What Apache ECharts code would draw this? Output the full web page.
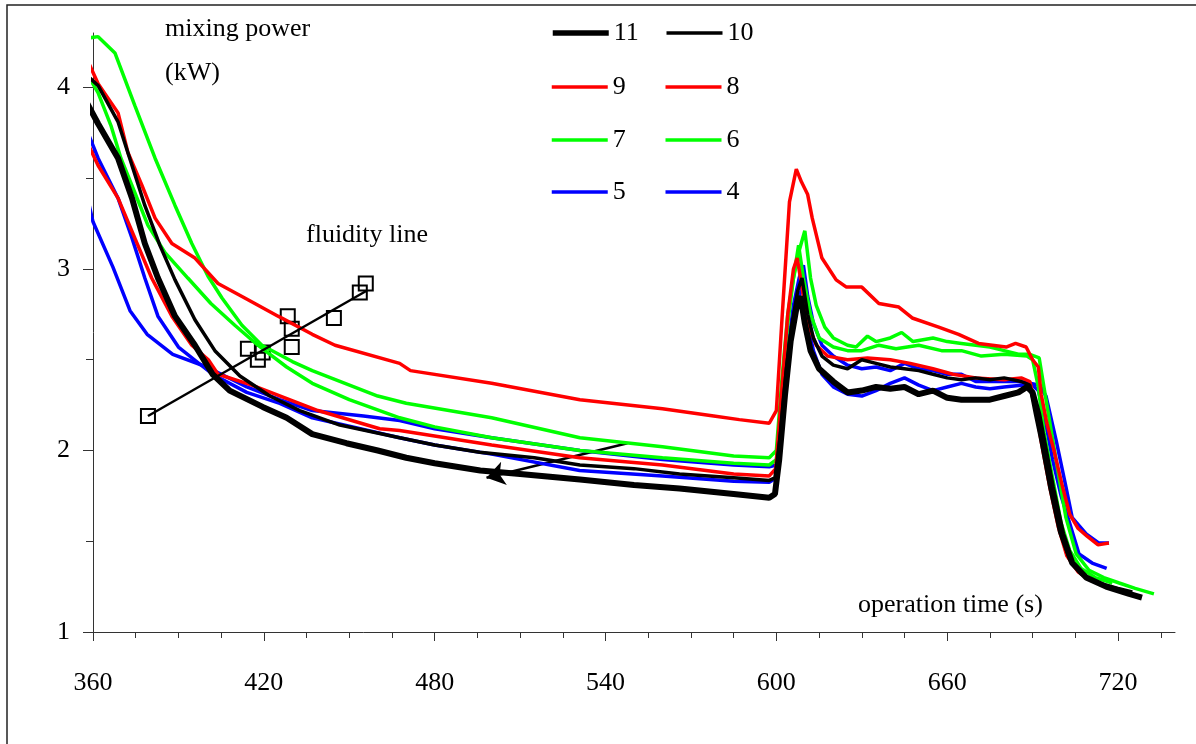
<!DOCTYPE html>
<html>
<head>
<meta charset="utf-8">
<script src="https://cdn.jsdelivr.net/npm/echarts@6.0.0/dist/echarts.min.js"></script>
<style>
  html, body { margin: 0; padding: 0; background: #fff; }
  #chart { width: 1196px; height: 744px; }
</style>
</head>
<body>
<div id="chart"></div>
<script>
// tick values
var xLabelTicks = [360, 420, 480, 540, 600, 660, 720];
var xMinorTicks = [375, 390, 405, 435, 450, 465, 495, 510, 525, 555, 570, 585, 615, 630, 645, 675, 690, 705, 735];
var yLabelTicks = [1, 2, 3, 4];
var yMinorTicks = [1.5, 2.5, 3.5];

// legend order (two per row)
var legendRows = [['11', '10'], ['9', '8'], ['7', '6'], ['5', '4']];

// mixing power (kW) vs operation time (s)
var run11 = [[357,3.94],[361.8,3.80],[368.8,3.61],[373.7,3.39],[378.2,3.14],[382.8,2.95],[388.8,2.74],[395.8,2.58],[402,2.42],[408,2.33],[419.6,2.24],[428,2.18],[437,2.09],[449,2.04],[460,2.00],[470,1.96],[480,1.93],[496,1.89],[510,1.87],[531,1.84],[550,1.81],[566,1.79],[585,1.76],[597.5,1.74],[599.5,1.76],[601,1.95],[603,2.3],[605,2.6],[607,2.78],[608.5,2.85],[610,2.7],[612,2.55],[615,2.45],[620,2.38],[625,2.32],[630,2.33],[635,2.35],[640,2.34],[645,2.35],[650,2.31],[655,2.33],[660,2.29],[665,2.28],[670,2.28],[675,2.28],[680,2.30],[685,2.32],[688,2.35],[690,2.32],[692,2.2],[693.3,2.09],[696.8,1.80],[700.4,1.54],[703.9,1.38],[708.8,1.30],[715.8,1.25],[723.9,1.21],[728.4,1.19]];
var run10 = [[357,4.08],[361.8,4.01],[368.8,3.81],[373.7,3.57],[378.2,3.35],[383.5,3.13],[388.8,2.94],[395.8,2.72],[402.8,2.55],[411.6,2.41],[422.1,2.30],[432.6,2.22],[446.7,2.14],[467.7,2.07],[480,2.03],[495.8,1.99],[515,1.96],[531,1.92],[550,1.90],[566,1.87],[585,1.85],[597.5,1.835],[599.5,1.85],[601.5,2.1],[603.5,2.45],[605.5,2.7],[607.5,2.88],[609,2.95],[611,2.75],[613,2.62],[616,2.52],[620,2.47],[625,2.45],[630,2.50],[635,2.48],[640,2.46],[645,2.45],[650,2.44],[655,2.42],[660,2.40],[665,2.39],[670,2.40],[675,2.39],[680,2.40],[686,2.38],[689,2.36],[691,2.2],[693,2.05],[696,1.8],[699.5,1.55],[703,1.40],[707,1.32],[713,1.27],[720,1.24],[725,1.22]];
var run9 = [[357.2,4.18],[361.8,4.02],[368.8,3.86],[372.3,3.64],[377.2,3.46],[381.8,3.28],[387.7,3.14],[395.8,3.06],[403.9,2.92],[413.3,2.84],[425,2.74],[437,2.64],[445,2.58],[467.7,2.48],[471.5,2.44],[500,2.37],[531,2.28],[560,2.23],[578,2.19],[587,2.17],[597.5,2.15],[600,2.22],[602,2.73],[604.6,3.37],[607,3.55],[608.8,3.48],[611,3.41],[612.6,3.28],[616,3.06],[621,2.94],[624.6,2.90],[630,2.90],[636,2.81],[643,2.79],[647.7,2.73],[657,2.68],[664,2.64],[671,2.59],[680.7,2.57],[684,2.59],[687.7,2.57],[690,2.50],[692,2.46],[693,2.31],[695,2.15],[697.5,2.0],[700.5,1.80],[703,1.65],[706,1.57],[709,1.53],[713,1.48],[716.8,1.49]];
var run8 = [[357,3.73],[361.8,3.57],[368.8,3.39],[374.7,3.17],[380.6,2.95],[387.7,2.74],[394.7,2.58],[400.5,2.50],[403.9,2.42],[415.8,2.36],[427.4,2.29],[439,2.22],[460.7,2.12],[467.7,2.11],[500,2.03],[530.9,1.96],[560,1.92],[585,1.87],[597.5,1.86],[599.8,1.9],[602,2.35],[604,2.75],[606,3.0],[607.3,3.06],[609,2.9],[611,2.7],[614,2.58],[618,2.52],[625,2.50],[632,2.51],[640,2.50],[647,2.48],[655,2.45],[662,2.42],[670,2.40],[680,2.39],[686,2.40],[689,2.38],[691,2.25],[693,2.05],[696,1.80],[699,1.58],[702,1.42],[706,1.33],[711,1.28]];
var run7 = [[357.2,4.27],[361.8,4.28],[367.7,4.19],[374.7,3.90],[381.8,3.61],[388.8,3.35],[394.7,3.14],[400.4,2.96],[405.3,2.84],[412.3,2.69],[419.3,2.58],[430,2.49],[437,2.44],[460,2.30],[470,2.26],[500,2.18],[531,2.07],[560,2.02],[585,1.97],[597.5,1.96],[600,2.0],[602,2.4],[604,2.75],[606,2.95],[608,3.1],[610,3.21],[612,2.95],[614,2.8],[617,2.68],[620,2.62],[625,2.58],[628,2.57],[632,2.63],[635,2.60],[640,2.62],[644,2.65],[648,2.60],[655,2.62],[660,2.60],[665,2.59],[670,2.58],[675,2.57],[680,2.55],[685,2.53],[689,2.53],[692.3,2.51],[694.7,2.28],[698.2,1.95],[701.7,1.63],[705.3,1.43],[709.8,1.34],[715,1.30],[720.4,1.27],[726,1.24],[732.6,1.21]];
var run6 = [[357,4.10],[361.8,3.97],[366.3,3.79],[369.8,3.61],[374.7,3.42],[379.3,3.24],[385.3,3.09],[393.3,2.95],[401.4,2.81],[409.8,2.69],[417.9,2.58],[428,2.46],[437,2.37],[450,2.28],[467.7,2.18],[480,2.13],[500,2.07],[531,2.00],[560,1.96],[585,1.93],[597.5,1.92],[600,1.95],[602,2.35],[604,2.7],[606,2.95],[607.8,3.13],[609.5,2.95],[612,2.75],[615,2.62],[620,2.57],[625,2.55],[630,2.55],[636,2.58],[642,2.56],[650,2.58],[658,2.55],[665,2.55],[672,2.52],[680,2.53],[688,2.52],[690,2.50],[692,2.35],[694,2.10],[697,1.85],[700,1.60],[703,1.45],[707,1.35],[712,1.30],[718,1.27]];
var run5 = [[357.2,3.45],[360,3.26],[367,3.01],[373,2.77],[379,2.64],[388,2.53],[400,2.46],[414,2.35],[425.6,2.28],[437,2.22],[455,2.19],[467.7,2.165],[480,2.12],[500,2.07],[531,2.00],[560,1.95],[585,1.92],[597.5,1.91],[600,1.92],[602,2.2],[604,2.55],[606,2.8],[608,2.95],[609.5,3.02],[611,2.85],[613,2.7],[616,2.58],[620,2.52],[625,2.47],[630,2.45],[635,2.46],[640,2.44],[645,2.48],[650,2.45],[655,2.44],[660,2.42],[665,2.42],[670,2.38],[675,2.38],[680,2.38],[685,2.38],[689,2.37],[692.5,2.36],[694.7,2.30],[698.2,2.06],[701.7,1.80],[703.9,1.63],[708.8,1.54],[713.3,1.49],[716.8,1.49]];
var run4 = [[357.2,3.79],[361.8,3.61],[368.8,3.39],[373.7,3.17],[378.2,2.95],[382.8,2.74],[390,2.57],[402,2.42],[414,2.32],[425.6,2.26],[437,2.18],[467.7,2.07],[480,2.03],[500,1.98],[530.9,1.89],[560,1.86],[585,1.83],[597.5,1.825],[600,1.85],[602,2.15],[604,2.5],[606,2.72],[608,2.85],[609.5,2.92],[611,2.7],[613,2.55],[616,2.42],[620,2.35],[625,2.31],[630,2.30],[635,2.33],[640,2.37],[645,2.40],[650,2.36],[655,2.33],[660,2.35],[665,2.37],[670,2.35],[675,2.34],[680,2.35],[686,2.36],[690,2.36],[692,2.33],[694,2.20],[697,1.95],[700,1.75],[702.8,1.61],[706.3,1.43],[710.9,1.38],[716,1.35]];

// fluidity points and fitted line
var fluidityPoints = [[379.3,2.19],[414.4,2.56],[417.9,2.50],[419.6,2.54],[428.4,2.74],[429.8,2.67],[429.8,2.57],[444.6,2.73],[453.7,2.87],[455.8,2.92]];
var fluidityLine = [[379.3,2.19],[456.1,2.88]];
var arrowLine = [[547.7,2.04],[498.2,1.85]];

var serif = 'Liberation Serif';

var runs = [
    { name: '4', data: run4, color: '#0000ff', width: 3.5 },
    { name: '5', data: run5, color: '#0000ff', width: 3.5 },
    { name: '6', data: run6, color: '#00ff00', width: 3.5 },
    { name: '7', data: run7, color: '#00ff00', width: 3.5 },
    { name: '8', data: run8, color: '#ff0000', width: 3.5 },
    { name: '9', data: run9, color: '#ff0000', width: 3.5 },
    { name: '10', data: run10, color: '#000000', width: 3.5 },
    { name: '11', data: run11, color: '#000000', width: 6 }
];

// legend swatch widths
var legendWidths = { '11': 5.5, '10': 3.5, '9': 3.5, '8': 3.5, '7': 3.5, '6': 3.5, '5': 3.5, '4': 3.5 };

var series = runs.map(function(r) {
    return {
        name: r.name,
        type: 'line',
        data: r.data,
        showSymbol: false,
        symbol: 'none',
        clip: false,
        lineStyle: { color: r.color, width: r.width },
        itemStyle: { color: r.color },
        silent: true
    };
});

series.push({
    name: 'fluidity line',
    type: 'line',
    data: fluidityLine,
    symbol: 'none',
    lineStyle: { color: '#000', width: 2.5 },
    silent: true
});
series.push({
    name: 'fluidity points',
    type: 'scatter',
    data: fluidityPoints,
    symbol: 'rect',
    symbolSize: 14,
    itemStyle: { color: 'rgba(0,0,0,0)', borderColor: '#000', borderWidth: 2, opacity: 1 },
    silent: true
});
series.push({
    name: 'arrow',
    type: 'lines',
    coordinateSystem: 'cartesian2d',
    data: [{ coords: arrowLine }],
    symbol: ['none', 'arrow'],
    symbolSize: 18,
    lineStyle: { color: '#000', width: 2.5, opacity: 1 },
    silent: true
});

var legendTops = [20, 74, 127, 179];
var legends = legendRows.map(function(row, i) {
    return {
        data: row.map(function(n) {
            return { name: n, lineStyle: { width: legendWidths[n] } };
        }),
        left: 550,
        top: legendTops[i],
        padding: 0,
        itemWidth: 56,
        itemHeight: 14,
        itemGap: 7,
        selectedMode: false,
        itemStyle: { opacity: 0 },
        textStyle: { fontFamily: serif, fontSize: 26, color: '#000', width: 44, lineHeight: 26 }
    };
});

var axisColor = '#333';

var options = {
    animation: false,
    backgroundColor: '#fff',
    legend: legends,
    grid: { left: 93, right: 21, top: 33, bottom: 112 },
    xAxis: [
        {
            type: 'value', min: 360, max: 740,
            splitLine: { show: false },
            axisLine: { lineStyle: { color: axisColor, width: 1 } },
            axisTick: { length: 9, customValues: xLabelTicks, lineStyle: { color: axisColor } },
            axisLabel: { customValues: xLabelTicks, margin: 38, fontFamily: serif, fontSize: 26, color: '#000' }
        },
        {
            type: 'value', min: 360, max: 740, position: 'bottom',
            splitLine: { show: false },
            axisLine: { show: false },
            axisTick: { length: 6, customValues: xMinorTicks, lineStyle: { color: axisColor } },
            axisLabel: { show: false }
        }
    ],
    yAxis: [
        {
            type: 'value', min: 1, max: 4.3,
            splitLine: { show: false },
            axisLine: { show: true, lineStyle: { color: axisColor, width: 1 } },
            axisTick: { show: true, length: 10, customValues: yLabelTicks, lineStyle: { color: axisColor } },
            axisLabel: { customValues: yLabelTicks, margin: 23, fontFamily: serif, fontSize: 26, color: '#000' }
        },
        {
            type: 'value', min: 1, max: 4.3, position: 'left',
            splitLine: { show: false },
            axisLine: { show: false },
            axisTick: { show: true, length: 7, customValues: yMinorTicks, lineStyle: { color: axisColor } },
            axisLabel: { show: false }
        }
    ],
    graphic: [
        { type: 'rect', shape: { x: 7, y: 5, width: 1250, height: 800 }, style: { fill: 'none', stroke: '#222', lineWidth: 1.5 }, silent: true },
        { type: 'text', left: 165, top: 16, style: { text: 'mixing power', font: '26px "Liberation Serif"', fill: '#000' } },
        { type: 'text', left: 165, top: 60, style: { text: '(kW)', font: '26px "Liberation Serif"', fill: '#000' } },
        { type: 'text', left: 306, top: 222, style: { text: 'fluidity line', font: '26px "Liberation Serif"', fill: '#000' } },
        { type: 'text', left: 858, top: 592, style: { text: 'operation time (s)', font: '26px "Liberation Serif"', fill: '#000' } }
    ],
    series: series
};

var chart = echarts.init(document.getElementById('chart'));
options && chart.setOption(options);
</script>
</body>
</html>
